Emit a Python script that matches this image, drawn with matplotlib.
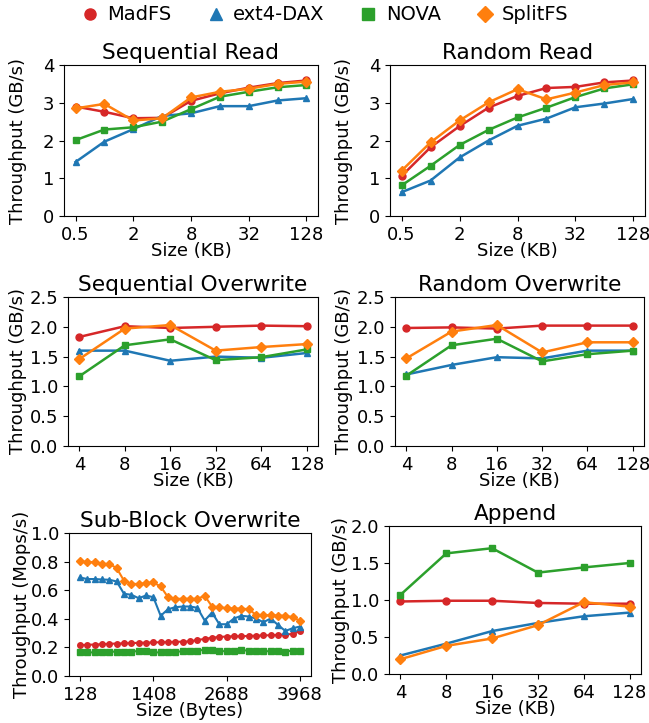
import matplotlib
matplotlib.use('Agg')
import matplotlib.pyplot as plt
import matplotlib.ticker as mticker
import matplotlib.transforms as mtrans
from matplotlib.lines import Line2D
import numpy as np

# file systems, colours and markers (legend order)
systems = ['MadFS', 'ext4-DAX', 'NOVA', 'SplitFS']
colors = ['tab:red', 'tab:blue', 'tab:green', 'tab:orange']
markers = ['o', '^', 's', 'D']

# sequential / random read, sizes in KB
read_sizes = [0.5, 1, 2, 4, 8, 16, 32, 64, 128]
read_ticks = [0.5, 2, 8, 32, 128]
seq_read = {
    'MadFS':    [2.90, 2.76, 2.59, 2.60, 3.05, 3.25, 3.40, 3.52, 3.59],
    'ext4-DAX': [1.43, 1.97, 2.30, 2.65, 2.72, 2.91, 2.91, 3.06, 3.12],
    'NOVA':     [2.01, 2.29, 2.35, 2.50, 2.83, 3.16, 3.29, 3.41, 3.47],
    'SplitFS':  [2.85, 2.97, 2.53, 2.59, 3.14, 3.29, 3.37, 3.50, 3.56],
}
rand_read = {
    'MadFS':    [1.06, 1.82, 2.38, 2.87, 3.18, 3.39, 3.42, 3.54, 3.59],
    'ext4-DAX': [0.63, 0.94, 1.55, 2.00, 2.39, 2.58, 2.88, 2.98, 3.10],
    'NOVA':     [0.81, 1.33, 1.88, 2.28, 2.61, 2.87, 3.15, 3.38, 3.49],
    'SplitFS':  [1.20, 1.95, 2.53, 3.01, 3.36, 3.09, 3.27, 3.47, 3.54],
}

# overwrite / append, sizes in KB
write_sizes = [4, 8, 16, 32, 64, 128]
seq_over = {
    'MadFS':    [1.83, 2.01, 1.98, 2.00, 2.02, 2.01],
    'ext4-DAX': [1.60, 1.60, 1.43, 1.50, 1.48, 1.56],
    'NOVA':     [1.17, 1.69, 1.79, 1.44, 1.49, 1.62],
    'SplitFS':  [1.46, 1.97, 2.03, 1.60, 1.66, 1.71],
}
rand_over = {
    'MadFS':    [1.98, 1.99, 1.97, 2.02, 2.02, 2.02],
    'ext4-DAX': [1.20, 1.36, 1.49, 1.47, 1.60, 1.60],
    'NOVA':     [1.18, 1.69, 1.80, 1.42, 1.54, 1.60],
    'SplitFS':  [1.47, 1.92, 2.03, 1.57, 1.74, 1.74],
}
append = {
    'MadFS':    [0.98, 0.99, 0.99, 0.96, 0.95, 0.95],
    'ext4-DAX': [0.25, 0.41, 0.58, 0.69, 0.78, 0.83],
    'NOVA':     [1.07, 1.63, 1.70, 1.37, 1.44, 1.50],
    'SplitFS':  [0.20, 0.38, 0.48, 0.66, 0.97, 0.91],
}

# sub-block overwrite, sizes in bytes
sub_sizes = list(range(128, 3969, 128))
sub_ticks = [128, 1408, 2688, 3968]
sub_over = {
    'MadFS': [0.215, 0.218, 0.220, 0.222, 0.225, 0.227, 0.228, 0.230, 0.232, 0.233,
              0.235, 0.236, 0.237, 0.239, 0.240, 0.242, 0.252, 0.259, 0.268, 0.273,
              0.276, 0.278, 0.278, 0.280, 0.282, 0.284, 0.285, 0.287, 0.290, 0.294, 0.315],
    'ext4-DAX': [0.689, 0.678, 0.678, 0.675, 0.673, 0.661, 0.575, 0.568, 0.544, 0.563,
                 0.551, 0.421, 0.467, 0.481, 0.486, 0.486, 0.477, 0.388, 0.444, 0.362,
                 0.362, 0.402, 0.421, 0.416, 0.402, 0.376, 0.402, 0.357, 0.315, 0.334, 0.346],
    'NOVA': [0.170, 0.165, 0.165, 0.165, 0.170, 0.170, 0.170, 0.170, 0.175, 0.172,
             0.165, 0.165, 0.165, 0.170, 0.172, 0.172, 0.178, 0.183, 0.182, 0.172,
             0.175, 0.172, 0.180, 0.178, 0.175, 0.175, 0.172, 0.178, 0.170, 0.178, 0.175],
    'SplitFS': [0.801, 0.797, 0.797, 0.785, 0.783, 0.755, 0.666, 0.645, 0.643, 0.650,
                0.654, 0.626, 0.551, 0.540, 0.540, 0.540, 0.540, 0.561, 0.486, 0.481,
                0.474, 0.472, 0.472, 0.467, 0.428, 0.425, 0.425, 0.423, 0.421, 0.411, 0.386],
}

plt.rcParams['font.size'] = 13
W, H = 649, 723
fig = plt.figure(figsize=(W / 100, H / 100), dpi=100)


def add_ax(l, t, r, b):
    return fig.add_axes([l / W, 1 - b / H, (r - l) / W, (b - t) / H])


def draw(ax, x, data, title, ylim, yticks, fmt, ylab_x,
         ylabel='Throughput (GB/s)', xlabel='Size (KB)', ms=5, lw=1.8):
    for name, c, m in zip(systems, colors, markers):
        ax.plot(x, data[name], color=c, marker=m, markersize=ms, linewidth=lw)
    ax.set_title(title, fontsize=15.6, pad=4)
    ax.set_ylim(*ylim)
    ax.set_yticks(yticks)
    ax.yaxis.set_major_formatter(mticker.FormatStrFormatter(fmt))
    ax.set_ylabel(ylabel)
    # labels sit at a fixed figure x, as in the original
    ax.yaxis.set_label_coords(ylab_x / W, 0.5,
                              transform=mtrans.blended_transform_factory(fig.transFigure, ax.transAxes))
    ax.set_xlabel(xlabel, labelpad=-1)
    ax.tick_params(labelsize=13)


def log2_axis(ax, ticks):
    ax.set_xscale('log', base=2)
    ax.set_xticks(ticks)
    ax.set_xticklabels([('%g' % t) for t in ticks])
    ax.xaxis.set_minor_locator(mticker.NullLocator())


ax1 = add_ax(64, 65, 318, 216)
draw(ax1, read_sizes, seq_read, 'Sequential Read', (0, 4), [0, 1, 2, 3, 4], '%d', 27)
log2_axis(ax1, read_ticks)

ax2 = add_ax(390, 65, 645, 216)
draw(ax2, read_sizes, rand_read, 'Random Read', (0, 4), [0, 1, 2, 3, 4], '%d', 353)
log2_axis(ax2, read_ticks)

ax3 = add_ax(68, 297, 318, 446)
draw(ax3, write_sizes, seq_over, 'Sequential Overwrite', (0, 2.5),
     np.arange(0, 2.51, 0.5), '%.1f', 27)
log2_axis(ax3, write_sizes)

ax4 = add_ax(395, 297, 644, 446)
draw(ax4, write_sizes, rand_over, 'Random Overwrite', (0, 2.5),
     np.arange(0, 2.51, 0.5), '%.1f', 353)
log2_axis(ax4, write_sizes)

ax5 = add_ax(69, 533, 311, 676)
draw(ax5, sub_sizes, sub_over, 'Sub-Block Overwrite', (0, 1.0),
     np.arange(0, 1.01, 0.2), '%.1f', 31,
     ylabel='Throughput (Mops/s)', xlabel='Size (Bytes)', ms=4, lw=1.5)
ax5.set_xticks(sub_ticks)

ax6 = add_ax(389, 526, 641, 674)
draw(ax6, write_sizes, append, 'Append', (0, 2.0), np.arange(0, 2.01, 0.5), '%.1f', 350)
log2_axis(ax6, write_sizes)

handles = [Line2D([], [], color=c, marker=m, linestyle='', markersize=8)
           for c, m in zip(colors, markers)]
fig.legend(handles, systems, loc='center', bbox_to_anchor=(0.5, 1 - 15 / H), ncol=4,
           frameon=False, fontsize=14, handlelength=1.0, handletextpad=0.4,
           columnspacing=1.75, borderpad=0.2)

fig.savefig('out.png', dpi=100)
